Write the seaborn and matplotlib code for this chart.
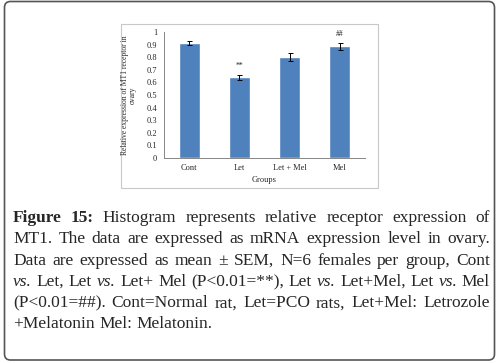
import matplotlib
matplotlib.use('Agg')
import matplotlib.pyplot as plt
from matplotlib.patches import FancyBboxPatch, Rectangle
from matplotlib.transforms import IdentityTransform
import pandas as pd
import seaborn as sns

# data
groups = ['Cont', 'Let', 'Let + Mel', 'Mel']
means = [0.91, 0.64, 0.80, 0.885]
sems = [0.015, 0.02, 0.03, 0.03]
marks = ['', '**', '', '##']
y_ticks = [0, 0.1, 0.2, 0.3, 0.4, 0.5, 0.6, 0.7, 0.8, 0.9, 1]
y_tick_labels = ['0', '0.1', '0.2', '0.3', '0.4', '0.5', '0.6', '0.7', '0.8', '0.9', '1']

caption_lines = [
    'Figure 15: Histogram represents relative receptor expression of',
    'MT1. The data are expressed as mRNA expression level in ovary.',
    'Data are expressed as mean \u00b1 SEM, N=6 females per group, Cont',
    'vs. Let, Let vs. Let+ Mel (P<0.01=**), Let vs. Let+Mel, Let vs. Mel',
    '(P<0.01=##). Cont=Normal rat, Let=PCO rats, Let+Mel: Letrozole',
    '+Melatonin Mel: Melatonin.',
]
bold_words = ['Figure', '15:']

sns.set_style('white')
plt.rcParams['font.family'] = ['Liberation Serif', 'DejaVu Serif']

W, H = 499, 363
fig = plt.figure(figsize=(W / 100, H / 100), dpi=100)
px = IdentityTransform()

# outer rounded frame and inner chart frame (pixel coords, origin bottom-left)
fig.patches.append(FancyBboxPatch((4.5, H - 360), 490, 358.5,
                                  boxstyle='round,pad=0,rounding_size=6',
                                  transform=px, facecolor='white',
                                  edgecolor='#555555', linewidth=1.2, zorder=0))
fig.patches.append(Rectangle((121, H - 188), 257, 164, transform=px,
                             facecolor='white', edgecolor='#c8c8c8',
                             linewidth=0.8, zorder=0.5))

ax = fig.add_axes([164 / W, 1 - 158 / H, 201 / W, 126 / H])
ax.set_zorder(2)
ax.set_facecolor('none')
df = pd.DataFrame({'group': groups, 'value': means})
sns.barplot(data=df, x='group', y='value', color='#4F81BD', saturation=1,
            width=0.42, errorbar=None, ax=ax, zorder=2)
ax.errorbar(range(len(groups)), means, yerr=sems, fmt='none', ecolor='black',
            elinewidth=0.7, capsize=1.8, capthick=0.7, zorder=3)
for i, m in enumerate(marks):
    if m:
        ax.text(i, means[i] + sems[i] + 0.04, m, ha='center', va='bottom',
                fontsize=5.5)

ax.set_xlim(-0.5, len(groups) - 0.5)
ax.set_ylim(0, 1)
ax.set_yticks(y_ticks)
ax.set_yticklabels(y_tick_labels, fontsize=6)
ax.set_xticks([i - 0.5 for i in range(len(groups) + 1)])
ax.set_xticklabels([])
ax.set_xticks(range(len(groups)), minor=True)
ax.set_xticklabels(groups, minor=True, fontsize=6)
ax.tick_params(axis='x', which='major', direction='out', length=3,
               color='#868686', width=0.7)
ax.tick_params(axis='x', which='minor', length=0, pad=4)
ax.tick_params(axis='y', direction='out', length=3, color='#868686',
               width=0.7, pad=2)
for s in ['top', 'right']:
    ax.spines[s].set_visible(False)
for s in ['left', 'bottom']:
    ax.spines[s].set_color('#868686')
    ax.spines[s].set_linewidth(0.7)
ax.set_xlabel('Groups', fontsize=6, labelpad=3)
ax.set_ylabel('Relative expression of MT1 receptor in\novary', fontsize=5.5,
              linespacing=1.0)
ax.yaxis.set_label_coords(-0.135, 0.5)

# justified caption, drawn word by word
cap_size = 12.5
left, right = 13, 490
base0, step = 222, 21.3
renderer = fig.canvas.get_renderer()
for li, line in enumerate(caption_lines):
    words = line.split(' ')
    items = []
    for w in words:
        weight = 'bold' if (li == 0 and w in bold_words) else 'normal'
        style = 'italic' if w == 'vs.' else 'normal'
        t = fig.text(0, 0, w, fontsize=cap_size, fontweight=weight,
                     fontstyle=style, transform=px, va='baseline', ha='left')
        items.append(t)
    widths = [t.get_window_extent(renderer).width for t in items]
    if li < len(caption_lines) - 1:
        gap = (right - left - sum(widths)) / (len(items) - 1)
    else:
        gap = cap_size * 0.25 * 100 / 72
    x = left
    y = H - (base0 + li * step)
    for t, wd in zip(items, widths):
        t.set_position((x, y))
        x += wd + gap

fig.savefig('out.png', dpi=100)
